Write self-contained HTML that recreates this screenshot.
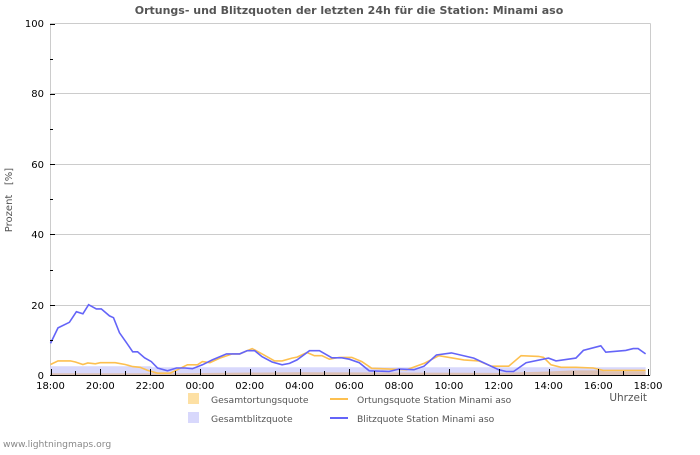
<!DOCTYPE html>
<html><head><meta charset="utf-8"><style>
body{margin:0;background:#fff;width:700px;height:450px;overflow:hidden}
svg{font-family:"DejaVu Sans","Liberation Sans",sans-serif}
</style></head><body>
<svg id="s" width="700" height="450" xmlns="http://www.w3.org/2000/svg">
<text x="349" y="14" text-anchor="middle" font-size="11" font-weight="bold" fill="#555">Ortungs- und Blitzquoten der letzten 24h für die Station: Minami aso</text>
<g stroke="#ccc" stroke-width="1" fill="none">
<line x1="50.5" y1="23.5" x2="650.5" y2="23.5"/>
<line x1="50.5" y1="93.5" x2="650.5" y2="93.5"/>
<line x1="50.5" y1="164.5" x2="650.5" y2="164.5"/>
<line x1="50.5" y1="234.5" x2="650.5" y2="234.5"/>
<line x1="50.5" y1="305.5" x2="650.5" y2="305.5"/>
<line x1="650.5" y1="23.5" x2="650.5" y2="375.5"/>
<line x1="50.5" y1="23" x2="50.5" y2="376"/>
</g>
<g id="areas"></g>
<g id="lines"></g>
<line x1="50" y1="375.5" x2="650" y2="375.5" stroke="#000"/>
<g id="ticks" stroke="#000"></g>
<g font-size="10" fill="#000" text-anchor="end">
<text x="44" y="27">100</text><text x="44" y="97">80</text><text x="44" y="168">60</text><text x="44" y="238">40</text><text x="44" y="309">20</text><text x="44" y="379">0</text>
</g>
<g id="xl" font-size="10" fill="#000" text-anchor="middle"></g>
<text transform="translate(12,200) rotate(-90)" text-anchor="middle" font-size="10" fill="#555" style="white-space:pre">Prozent   [%]</text>
<text x="647" y="401" text-anchor="end" font-size="10.5" fill="#555">Uhrzeit</text>
<rect x="188" y="393" width="11" height="11" fill="#fde0a4"/>
<rect x="188" y="412" width="11" height="11" fill="#d8d8fc"/>
<text x="211" y="403" font-size="9.2" fill="#555">Gesamtortungsquote</text>
<text x="211" y="422" font-size="9.2" fill="#555">Gesamtblitzquote</text>
<line x1="330" y1="399" x2="348" y2="399" stroke="#fdc050" stroke-width="2"/>
<line x1="330" y1="418" x2="348" y2="418" stroke="#6464f8" stroke-width="2"/>
<text x="357" y="403" font-size="9.2" fill="#555">Ortungsquote Station Minami aso</text>
<text x="357" y="422" font-size="9.2" fill="#555">Blitzquote Station Minami aso</text>
<text x="3" y="447" font-size="9.2" fill="#888">www.lightningmaps.org</text>
</svg>
<script>
var NS="http://www.w3.org/2000/svg";
function X(h){return 50.5+h*24.9}
function Y(v){return 375-v*3.515}
function el(p,t,a){var e=document.createElementNS(NS,t);for(var k in a)e.setAttribute(k,a[k]);document.getElementById(p).appendChild(e);return e}
function pts(d){return d.map(function(p){return X(p[0]).toFixed(1)+","+Y(p[1]).toFixed(1)}).join(" ")}
var blue=[[0,9],[0.3,13.4],[0.76,15],[1.04,18],[1.3,17.4],[1.53,20],[1.84,18.8],[2.04,18.8],[2.37,16.8],[2.53,16.3],[2.77,12],[3.17,8],[3.3,6.6],[3.5,6.6],[3.78,4.9],[4.05,3.8],[4.3,2],[4.7,1.2],[5.06,2],[5.4,2],[5.7,1.8],[6.1,2.9],[6.5,4.3],[7.07,6],[7.6,6],[7.9,6.9],[8.2,6.9],[8.5,5.2],[8.9,3.7],[9.3,2.9],[9.6,3.3],[9.9,4.3],[10.4,6.9],[10.8,6.9],[11.3,4.9],[11.7,4.9],[12,4.5],[12.4,3.5],[12.8,1.2],[13.6,1],[14,1.7],[14.6,1.5],[15,2.5],[15.5,5.7],[16.1,6.3],[17,4.8],[18,1.5],[18.3,1],[18.6,1],[19.1,3.5],[20,4.8],[20.3,4],[21.1,4.8],[21.4,7],[22.1,8.3],[22.3,6.5],[23.1,7],[23.4,7.5],[23.6,7.5],[23.9,6]];
var orange=[[0,3],[0.3,4],[0.8,4],[1,3.7],[1.3,3],[1.5,3.4],[1.8,3.2],[2,3.5],[2.6,3.5],[3,3],[3.3,2.4],[3.6,2.2],[3.9,1.3],[4.3,0.5],[4.8,0.5],[5.1,1.5],[5.5,2.9],[5.9,2.9],[6.1,3.8],[6.4,3.5],[6.8,4.8],[7.3,6],[7.6,6],[8.1,7.5],[8.5,6],[9,4],[9.3,4],[9.7,4.8],[9.9,5.1],[10.3,6.4],[10.6,5.5],[10.9,5.5],[11.2,4.5],[11.6,5],[12.1,5],[12.5,3.8],[12.9,1.9],[14.3,1.5],[15,3.3],[15.6,5.5],[16.6,4.3],[17.2,4],[17.7,2.5],[18.4,2.5],[18.9,5.5],[19.6,5.3],[19.8,5],[20.1,2.9],[20.5,2.2],[21.1,2.2],[21.8,2],[22.2,1.3],[23.9,1.3]];
var ba=[[0,2.5],[4,2.5],[4.1,2.2],[23.9,2.2]];
var oa=[[0,0.5],[5,0.5],[10,0.8],[18,0.6],[20,1],[21,1.3],[22,1.3],[22.3,1],[23.9,1]];
function area(d,c){var s=X(d[0][0]).toFixed(1)+","+Y(0)+" "+pts(d)+" "+X(d[d.length-1][0]).toFixed(1)+","+Y(0);el("areas","polygon",{points:s,fill:c})}
area(ba,"#d8d8fc");area(oa,"#dcc0b4");
el("lines","polyline",{points:pts(orange),fill:"none",stroke:"#fdc050","stroke-width":1.6});
el("lines","polyline",{points:pts(blue),fill:"none",stroke:"#6464f8","stroke-width":1.6});
for(var h=0;h<=24;h++){var x=Math.round(X(h))+0.5;el("ticks","line",{x1:x,y1:375,x2:x,y2:h%2?371:369});
if(h%2==0){var t=el("xl","text",{x:X(h),y:389});t.textContent=(("0"+((18+h)%24)).slice(-2))+":00";}}
for(var v=0;v<=100;v+=10){var y=Math.round(Y(v))+0.5;el("ticks","line",{x1:50,y1:y,x2:v%20?53:55,y2:y});}
</script>
</body></html>
